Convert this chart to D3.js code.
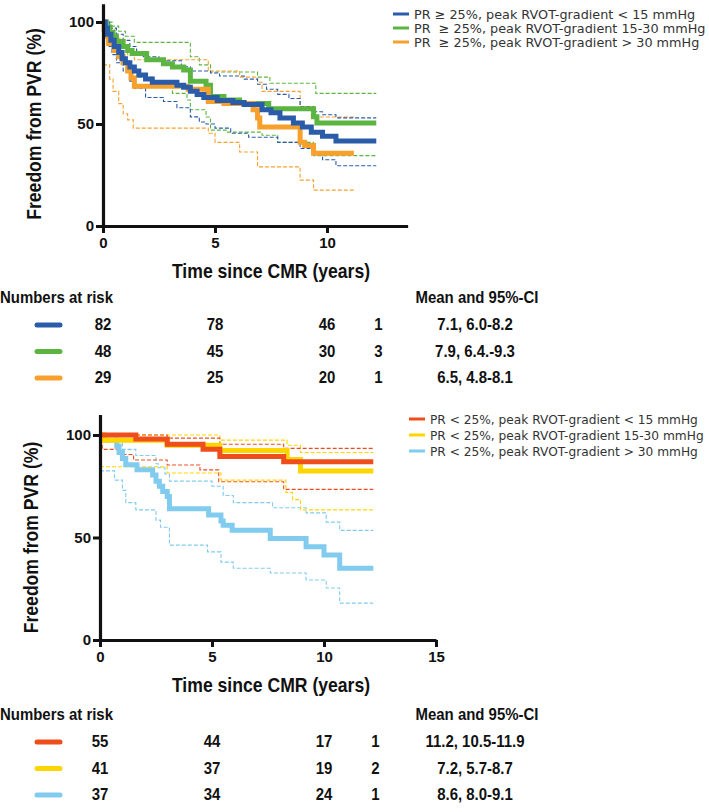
<!DOCTYPE html>
<html><head><meta charset="utf-8">
<script src="https://cdn.jsdelivr.net/npm/d3@7"></script>
<style>
body{margin:0;background:#fff;}
svg{display:block;}
text{font-family:"Liberation Sans",Arial,sans-serif;font-weight:bold;fill:#111;}
.leg{font-family:"DejaVu Sans",Verdana,sans-serif;font-weight:normal;fill:#333;white-space:pre;}
</style></head><body>
<svg id="c" width="709" height="812"></svg>
<script>
// ---------- DATA (time in years, freedom from PVR in %) ----------
const topLegend = ["PR \u2265 25%, peak RVOT-gradient < 15 mmHg","PR  \u2265 25%, peak RVOT-gradient 15-30 mmHg","PR  \u2265 25%, peak RVOT-gradient > 30 mmHg"];
const botLegend = ["PR < 25%, peak RVOT-gradient < 15 mmHg","PR < 25%, peak RVOT-gradient 15-30 mmHg","PR < 25%, peak RVOT-gradient > 30 mmHg"];
const topColors = ["#2a5caa","#5cb540","#f7a02c"];
const botColors = ["#ee4e1c","#ffd500","#80cbee"];

const blueKM = [[0,100],[0.1,97],[0.2,94],[0.35,91],[0.5,88],[0.7,85],[0.85,82],[1.0,80],[1.2,78],[1.4,76],[1.6,74],[1.9,72],[2.2,70.5],[3.3,69],[3.6,68],[3.9,66],[4.2,64.5],[4.5,63],[5.1,61.5],[5.8,60.5],[6.3,59.5],[7.1,57],[7.5,55.5],[7.9,53],[8.5,50.5],[8.9,48.5],[9.3,46],[9.8,44],[10.4,41.7],[12.2,41.7]];
const blueUp = [[0,100],[0.3,97],[0.6,94],[0.9,91],[1.2,88],[1.5,85],[1.8,83],[2.5,81],[3.5,78],[3.9,76],[4.8,75],[5.2,73.5],[6.3,72],[6.9,69.5],[7.3,67],[7.8,64.5],[8.3,62.5],[8.8,58.5],[9.4,56],[9.8,54.5],[10.4,53],[12.2,53]];
const blueLo = [[0,100],[0.05,93],[0.2,88],[0.4,84],[0.6,80],[0.9,76],[1.2,71],[1.4,67.5],[1.9,63],[2.7,61],[3.3,58],[3.9,53.5],[4.3,51],[4.6,50],[5.0,48],[5.7,45.5],[6.5,43.5],[7.8,41],[8.8,38],[9.4,35],[9.8,32.5],[10.4,29.5],[12.2,29.5]];
const greenKM = [[0,100],[0.15,97.5],[0.3,95],[0.45,93],[0.6,90.5],[0.9,88],[1.1,86],[1.3,84.5],[1.95,81.5],[2.7,79.5],[3.1,78],[3.6,76.5],[3.9,71],[4.6,69],[4.8,63.5],[5.4,61.8],[6.1,60],[7.4,57.5],[9.4,53.5],[9.55,50.5],[12.2,50.5]];
const greenUp = [[0,100],[0.4,98],[0.7,95.5],[1.0,93],[1.4,90],[3.9,83],[4.3,79],[4.8,75.5],[6.9,73],[7.45,70],[9.5,65],[12.2,65]];
const greenLo = [[0,100],[0.1,94],[0.3,89.5],[0.6,85],[0.9,81],[1.1,77],[1.35,73],[2.2,70.5],[2.6,68],[3.1,65],[3.75,61.8],[3.9,57],[4.6,53.4],[4.8,47],[5.5,46],[7.1,44.5],[7.8,41],[9.4,34.5],[12.2,34.5]];
const orangeKM = [[0,100],[0.05,96.5],[0.15,93],[0.25,89.5],[0.5,86],[0.7,83],[0.9,80],[1.1,76],[1.25,72.5],[1.4,68.5],[3.8,67],[4.7,61],[5.4,60],[6.7,57],[6.9,53],[7.0,48.5],[8.8,41],[9.0,39.5],[9.4,35.7],[11.2,35.7]];
const orangeUp = [[0,100],[0.2,97],[0.5,92],[0.8,88],[1.1,84],[1.4,81.5],[4.7,76],[6.1,73],[6.9,70.5],[7.1,66],[8.8,58],[9.3,53.4],[11.2,53.4]];
const orangeLo = [[0,79],[0.3,72],[0.45,66],[0.7,60],[0.9,55],[1.1,52],[1.35,48],[4.7,45.5],[5.0,41],[6.1,36.3],[6.9,29],[8.8,22.5],[9.4,17.6],[11.2,17.6]];

const redKM = [[0,100],[1.6,98],[3.0,95.5],[4.6,93],[5.35,89.5],[8.2,87],[12.2,87]];
const redUp = [[0,100],[3.0,98.5],[5.35,95.5],[8.2,93.5],[12.2,93.5]];
const redLo = [[0,100],[0.1,93],[0.8,90.5],[1.5,87.8],[3.0,85.4],[4.46,83],[5.3,77.2],[8.2,73.5],[12.2,73.5]];
const yellowKM = [[0,100],[0.2,97.5],[3.0,95],[5.35,92.5],[8.35,88],[8.95,82.5],[12.2,82.5]];
const yellowUp = [[0,100],[5.35,97.5],[8.35,95],[8.95,91.5],[12.2,91.5]];
const yellowLo = [[0,84.5],[3.0,81.5],[5.4,78],[8.3,72],[8.6,68.5],[8.95,63.5],[12.2,63.5]];
const ltblueKM = [[0,100],[0.1,97.5],[0.75,94.5],[0.85,91.5],[1.0,88.5],[1.15,85.5],[1.65,83],[2.35,80.5],[2.5,77.5],[2.65,75],[2.8,72.5],[3.0,70],[3.1,64],[4.85,61],[5.4,58],[5.5,56],[5.9,53.5],[7.6,49.5],[9.2,45.5],[10.0,41.5],[10.7,35],[12.2,35]];
const ltblueUp = [[0,100],[0.7,97],[1.0,93],[1.6,90],[2.5,86],[2.6,84],[2.9,81],[3.1,77.5],[5.0,75],[5.5,70.5],[5.95,67],[7.7,64.5],[9.2,62],[10.1,57.5],[10.7,53.5],[12.2,53.5]];
const ltblueLo = [[0,82.5],[0.65,78],[1.0,73],[1.15,67],[1.6,63.5],[2.5,58.5],[2.7,55],[3.1,46.3],[4.8,43],[5.4,38],[5.95,35],[7.6,32.7],[9.2,29.3],[10.1,25.4],[10.7,18],[12.2,18]];

const yTicks = [0,50,100];
const topXTicks = [0,5,10];
const botXTicks = [0,5,10,15];
const riskTimes = [0,5,10,12.3];
const topRisk = [[82,78,46,1],[48,45,30,3],[29,25,20,1]];
const botRisk = [[55,44,17,1],[41,37,19,2],[37,34,24,1]];
const topMeans = ["7.1, 6.0-8.2","7.9, 6.4.-9.3","6.5, 4.8-8.1"];
const botMeans = ["11.2, 10.5-11.9","7.2, 5.7-8.7","8.6, 8.0-9.1"];

// ---------- DRAW ----------
const svg = d3.select("#c");
const SX = 0.88; // condensed look of the bold labels

function T(g, x, y, txt, size, anchor, rot){
  return g.append("text")
    .attr("transform",`translate(${x},${y})` + (rot?` rotate(${rot})`:"") + ` scale(${SX},1)`)
    .attr("text-anchor",anchor||"start").attr("font-size",size).text(txt);
}

function panel(cfg){
  const g = svg.append("g");
  const x = d3.scaleLinear().domain([0,cfg.xMax]).range([cfg.x0, cfg.x0 + cfg.xMax*22.4]);
  const y = d3.scaleLinear().domain([0,cfg.yMax]).range([cfg.y0, cfg.y0 - cfg.yMax*cfg.ppp]);
  const line = d3.line().x(d=>x(d[0])).y(d=>y(d[1])).curve(d3.curveStepAfter);

  cfg.ci.forEach(s=>{
    g.append("path").attr("d", line(s.d)).attr("fill","none")
      .attr("stroke", s.c).attr("stroke-width",1.1).attr("stroke-dasharray","4,2");
  });
  cfg.km.forEach(s=>{
    g.append("path").attr("d", line(s.d)).attr("fill","none")
      .attr("stroke", s.c).attr("stroke-width",5);
  });

  const ya = d3.axisLeft(y).tickValues(yTicks).tickSize(7).tickSizeOuter(0).tickPadding(2);
  const yg = g.append("g").attr("transform",`translate(${cfg.x0},0)`).call(ya);
  const xa = d3.axisBottom(x).tickValues(cfg.xTicks).tickSize(7).tickSizeOuter(0).tickPadding(4);
  const xg = g.append("g").attr("transform",`translate(0,${cfg.y0})`).call(xa);
  [yg,xg].forEach(a=>{
    a.select(".domain").attr("stroke","#111").attr("stroke-width",3.2);
    a.selectAll(".tick line").attr("stroke","#111").attr("stroke-width",3);
    a.selectAll(".tick text").attr("font-size",15).attr("font-weight","bold")
      .attr("font-family","Liberation Sans, Arial, sans-serif").attr("fill","#111");
  });

  T(g, cfg.x0-62, y(50), "Freedom from PVR (%)", 20, "middle", -90);
  T(g, 271, cfg.y0+52, "Time since CMR (years)", 20, "middle");

  cfg.legend.forEach((t,i)=>{
    const ly = cfg.legY[i];
    g.append("line").attr("x1",cfg.legX).attr("x2",cfg.legX+16).attr("y1",ly).attr("y2",ly)
      .attr("stroke",cfg.colors[i]).attr("stroke-width",3);
    g.append("text").attr("class","leg").attr("font-size",cfg.legSize)
      .attr("x",cfg.legX+21).attr("y",ly+4.5).text(t);
  });

  const hy = cfg.y0 + 77 + cfg.tabShift;
  T(g, 0, hy, "Numbers at risk", 17, "start");
  T(g, 477, hy, "Mean and 95%-CI", 17, "middle");
  cfg.risk.forEach((row,i)=>{
    const ry = hy + 27 + i*26.5;
    g.append("line").attr("x1",37).attr("x2",60).attr("y1",ry-5).attr("y2",ry-5)
      .attr("stroke",cfg.colors[i]).attr("stroke-width",5).attr("stroke-linecap","round");
    row.forEach((v,j)=> T(g, x(riskTimes[j]), ry, v, 17, "middle"));
    T(g, 475, ry, cfg.means[i], 17, "middle");
  });
}

panel({x0:103, xMax:13.6, y0:226, ppp:2.04, yMax:109, xTicks:topXTicks,
  km:[{d:greenKM,c:topColors[1]},{d:orangeKM,c:topColors[2]},{d:blueKM,c:topColors[0]}],
  ci:[{d:greenUp,c:topColors[1]},{d:greenLo,c:topColors[1]},{d:orangeUp,c:topColors[2]},{d:orangeLo,c:topColors[2]},{d:blueUp,c:topColors[0]},{d:blueLo,c:topColors[0]}],
  colors:topColors, legend:topLegend, legX:393, legY:[14,28,42], legSize:12.8, tabShift:0,
  risk:topRisk, means:topMeans});

panel({x0:100, xMax:15, y0:640, ppp:2.05, yMax:110, xTicks:botXTicks,
  km:[{d:ltblueKM,c:botColors[2]},{d:yellowKM,c:botColors[1]},{d:redKM,c:botColors[0]}],
  ci:[{d:ltblueUp,c:botColors[2]},{d:ltblueLo,c:botColors[2]},{d:yellowUp,c:botColors[1]},{d:yellowLo,c:botColors[1]},{d:redUp,c:botColors[0]},{d:redLo,c:botColors[0]}],
  colors:botColors, legend:botLegend, legX:409, legY:[419,435,451], legSize:12.2, tabShift:3,
  risk:botRisk, means:botMeans});
</script>
</body></html>
